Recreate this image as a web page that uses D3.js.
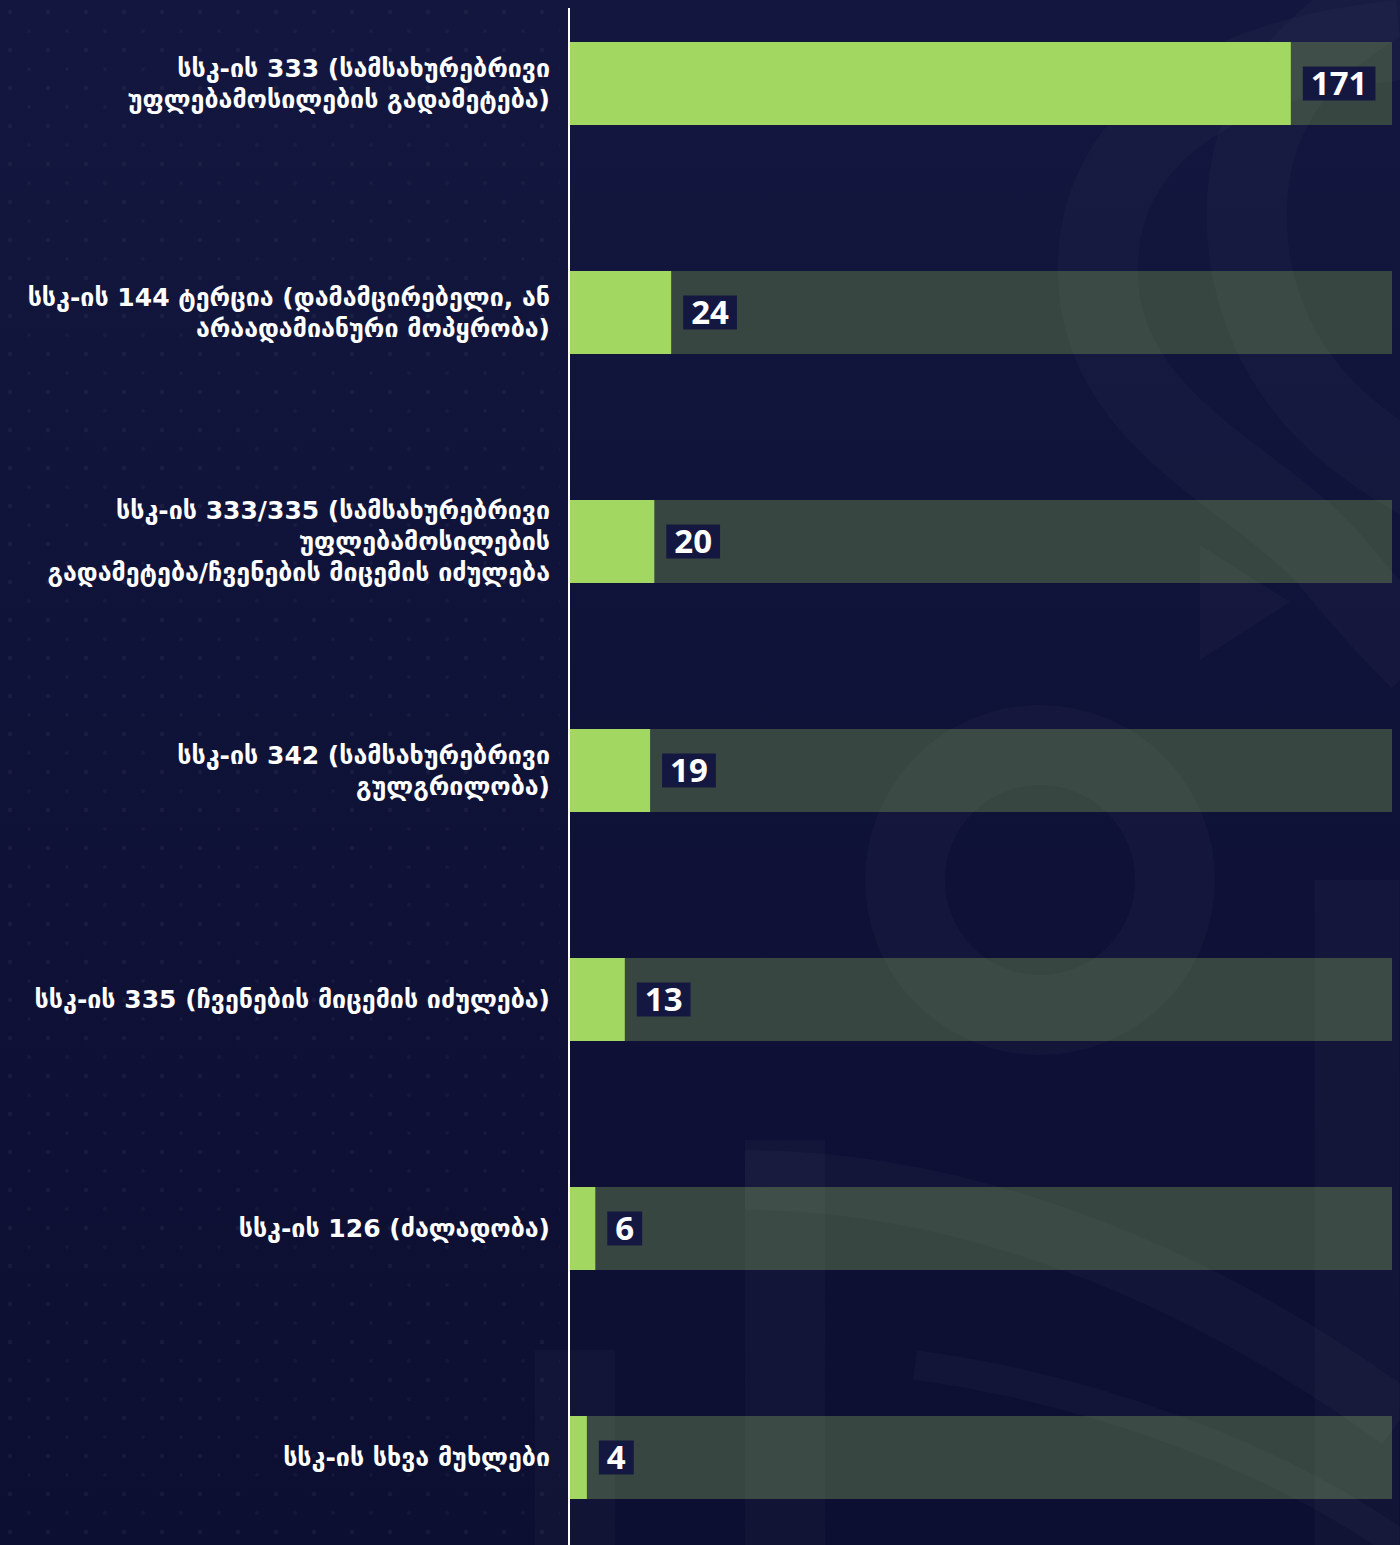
<!DOCTYPE html>
<html>
<head>
<meta charset="utf-8">
<script src="https://cdn.jsdelivr.net/npm/d3@7/dist/d3.min.js"></script>
<style>
  html, body { margin: 0; padding: 0; background: #11133a; }
  svg { display: block; }
</style>
</head>
<body>
<svg id="chart" width="1400" height="1545"></svg>
<script>
const categories = [
  "სსკ-ის 333 (სამსახურებრივი\nუფლებამოსილების გადამეტება)",
  "სსკ-ის 144 ტერცია (დამამცირებელი, ან\nარაადამიანური მოპყრობა)",
  "სსკ-ის 333/335 (სამსახურებრივი\nუფლებამოსილების\nგადამეტება/ჩვენების მიცემის იძულება",
  "სსკ-ის 342 (სამსახურებრივი\nგულგრილობა)",
  "სსკ-ის 335 (ჩვენების მიცემის იძულება)",
  "სსკ-ის 126 (ძალადობა)",
  "სსკ-ის სხვა მუხლები"
];
const values = [171, 24, 20, 19, 13, 6, 4];
const domainMax = 195;

const W = 1400, H = 1545;
const svg = d3.select("#chart");

// background
const defs = svg.append("defs");
const bg = defs.append("linearGradient").attr("id", "bg").attr("x1", 0).attr("y1", 0).attr("x2", 0).attr("y2", 1);
bg.append("stop").attr("offset", "0").attr("stop-color", "#13163e");
bg.append("stop").attr("offset", "1").attr("stop-color", "#0c0f31");
svg.append("rect").attr("width", W).attr("height", H).attr("fill", "url(#bg)");

// faint dot pattern on the left
const pat = defs.append("pattern").attr("id", "dots").attr("width", 38).attr("height", 38).attr("patternUnits", "userSpaceOnUse");
pat.append("circle").attr("cx", 10).attr("cy", 12).attr("r", 2.2).attr("fill", "#ffffff").attr("opacity", 0.045);
pat.append("circle").attr("cx", 29).attr("cy", 31).attr("r", 1.8).attr("fill", "#ffffff").attr("opacity", 0.035);
svg.append("rect").attr("width", 560).attr("height", H).attr("fill", "url(#dots)");

// scales
const x = d3.scaleLinear().domain([0, domainMax]).range([570, 1392]);
const y = d3.scaleBand().domain(categories).range([-31, 1572])
  .paddingInner(0.6376).paddingOuter(0.3188);

// tracks
svg.append("g").selectAll("rect").data(categories).join("rect")
  .attr("x", x(0)).attr("y", d => y(d))
  .attr("width", x(domainMax) - x(0)).attr("height", y.bandwidth())
  .attr("fill", "#374641");

// faint watermark shapes (drawn over tracks, very subtle)
const deco = svg.append("g").attr("fill", "none").attr("stroke", "#ffffff").attr("stroke-opacity", 0.022);
deco.append("path").attr("stroke-width", 80)
  .attr("d", "M1400,40 C1200,60 1080,150 1100,300 C1120,430 1260,480 1330,560 C1380,620 1400,640 1420,660");
deco.append("path").attr("stroke-width", 80)
  .attr("d", "M1420,-20 C1300,40 1230,120 1250,260 C1270,380 1350,440 1420,480");
deco.append("circle").attr("cx", 1040).attr("cy", 880).attr("r", 135).attr("stroke-width", 80);
deco.append("path").attr("stroke-width", 85).attr("d", "M1357,880 L1357,1545");
deco.append("path").attr("stroke-width", 80).attr("d", "M785,1140 L785,1545");
deco.append("path").attr("stroke-width", 80).attr("d", "M575,1350 L575,1545");
deco.append("path").attr("stroke-width", 60)
  .attr("d", "M745,1180 C950,1180 1180,1260 1400,1420");
deco.append("path").attr("stroke-width", 30)
  .attr("d", "M915,1365 C1100,1390 1280,1460 1400,1545");
svg.append("path").attr("fill", "#ffffff").attr("fill-opacity", 0.022)
  .attr("d", "M1200,545 L1290,602 L1200,660 Z");

// bars
svg.append("g").selectAll("rect").data(values).join("rect")
  .attr("x", x(0)).attr("y", (d, i) => y(categories[i]))
  .attr("width", d => x(d) - x(0)).attr("height", y.bandwidth())
  .attr("fill", "#a2d862");

// value labels
const vl = svg.append("g").selectAll("g").data(values).join("g")
  .attr("transform", (d, i) => `translate(${x(d) + 12},${y(categories[i]) + y.bandwidth() / 2})`);
vl.append("rect").attr("class", "box").attr("fill", "#141841");
vl.append("text").text(d => d)
  .attr("fill", "#ffffff").attr("font-family", "'Open Sans', 'Noto Sans', sans-serif")
  .attr("font-weight", 700).attr("font-size", 33)
  .attr("dy", "0.35em").attr("x", 8);
vl.each(function() {
  const g = d3.select(this);
  const w = g.select("text").node().getComputedTextLength();
  g.select("rect").attr("x", 0).attr("y", -17).attr("width", w + 16).attr("height", 34);
});

// axis line
svg.append("line").attr("x1", 569).attr("x2", 569).attr("y1", 8).attr("y2", H)
  .attr("stroke", "#ffffff").attr("stroke-width", 2);

// category labels
const lineH = 31;
const cl = svg.append("g").selectAll("text").data(categories).join("text")
  .attr("text-anchor", "end")
  .attr("fill", "#ffffff")
  .attr("font-family", "'DejaVu Sans', sans-serif")
  .attr("font-weight", 700).attr("font-size", 25)
  .attr("transform", d => `translate(550,${y(d) + y.bandwidth() / 2})`);
cl.each(function(d) {
  const lines = d.split("\n");
  const t = d3.select(this);
  lines.forEach((ln, i) => {
    t.append("tspan").attr("x", 0)
      .attr("y", (i - (lines.length - 1) / 2) * lineH)
      .attr("dy", "0.35em").text(ln);
  });
});
</script>
</body>
</html>
